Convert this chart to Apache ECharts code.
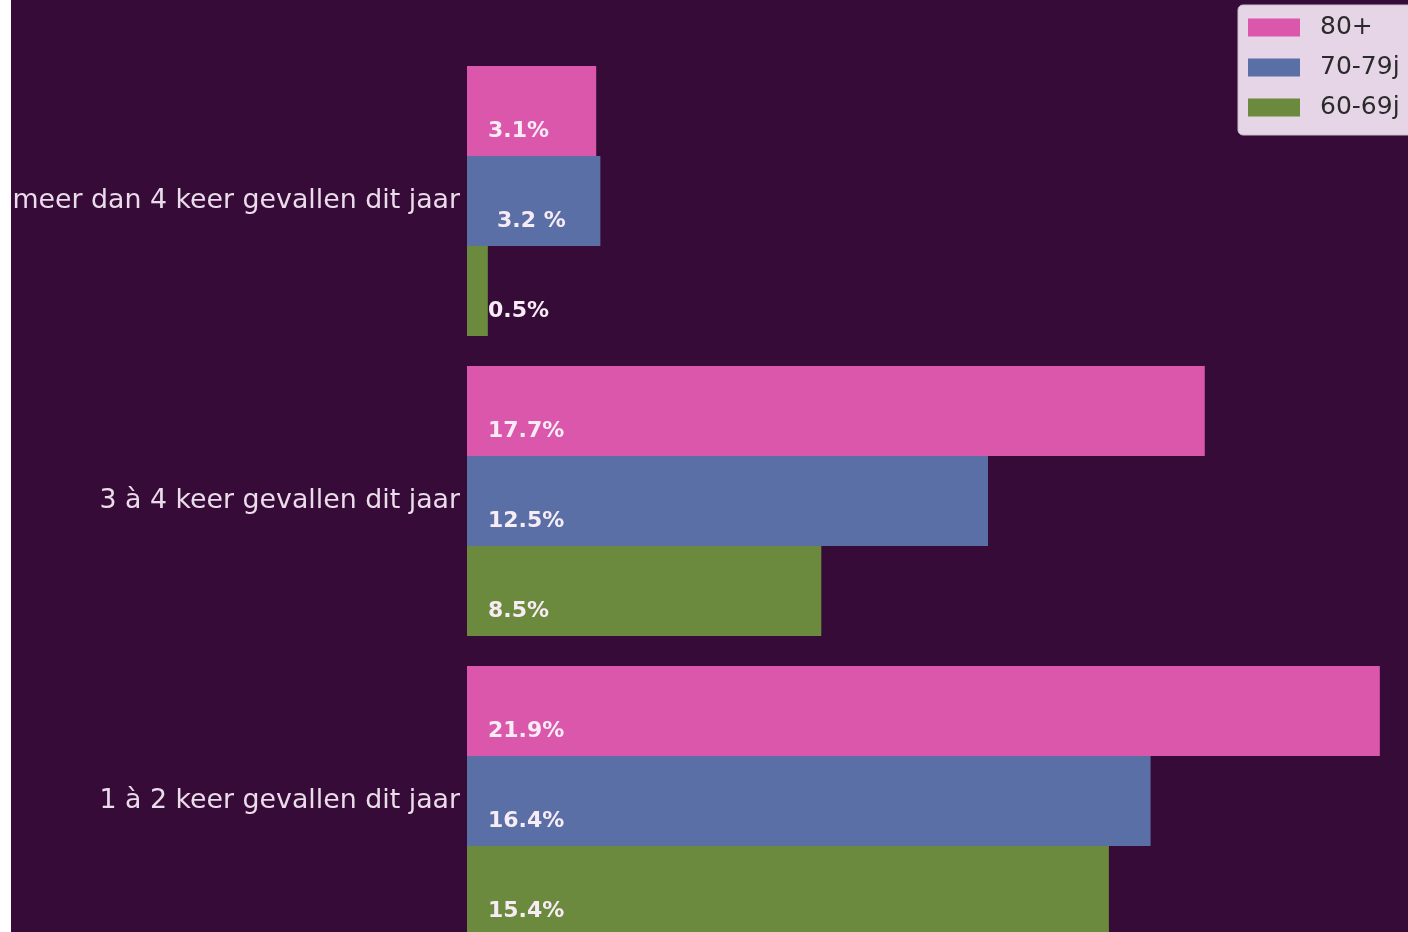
<!DOCTYPE html>
<html>
<head>
<meta charset="utf-8">
<script src="https://cdn.jsdelivr.net/npm/echarts@6/dist/echarts.min.js"></script>
<style>
html,body{margin:0;padding:0;background:#ffffff;width:1408px;height:932px;overflow:hidden;}
#chart{position:absolute;left:11px;top:0;width:1397px;height:970px;background:#360b37;}
</style>
</head>
<body>
<div id="chart"></div>
<script>
// Categories (bottom to top)
const categories = ['1 à 2 keer gevallen dit jaar', '3 à 4 keer gevallen dit jaar', 'meer dan 4 keer gevallen dit jaar'];
const seriesNames = ['80+', '70-79j', '60-69j'];
const values80 = [21.9, 17.7, 3.1];
const values70 = [16.4, 12.5, 3.2];
const values60 = [15.4, 8.5, 0.5];
const labels80 = ['21.9%', '17.7%', '3.1%'];
const labels70 = ['16.4%', '12.5%', '3.2 %'];
const labels60 = ['15.4%', '8.5%', '0.5%'];
const colors = ['#db57ab', '#5b6fa7', '#6b8a3d'];

const chart = echarts.init(document.getElementById('chart'));

function mkSeries(name, vals, labs, color) {
  return {
    name: name,
    type: 'bar',
    barGap: '0%',
    barCategoryGap: '10%',
    itemStyle: { color: color },
    data: vals.map((v, i) => ({
      value: v,
      label: { formatter: labs[i], offset: labs[i].indexOf(' ') >= 0 ? [25, 20] : [16, 20] }
    })),
    label: {
      show: true,
      position: 'insideLeft',
      color: '#f7ecf6',
      fontFamily: 'DejaVu Sans',
      fontWeight: 'bold',
      fontSize: 22
    }
  };
}

chart.setOption({
  animation: false,
  backgroundColor: '#360b37',
  textStyle: { fontFamily: 'DejaVu Sans' },
  grid: { left: 456, top: 51, width: 917, height: 900, containLabel: false, outerBoundsMode: 'none' },
  legend: {
    data: seriesNames,
    orient: 'vertical',
    left: 1227,
    top: 5,
    backgroundColor: '#e5d5e6',
    borderColor: '#cbbccc',
    borderWidth: 1,
    borderRadius: 5,
    padding: [10, 20, 15, 10],
    itemWidth: 52,
    itemHeight: 18,
    itemGap: 15,
    icon: 'rect',
    textStyle: { color: '#2a2a2a', fontSize: 25, fontFamily: 'DejaVu Sans', padding: [0, 0, 0, 15] }
  },
  xAxis: {
    type: 'value',
    min: 0,
    max: 22,
    show: false,
    splitLine: { show: false }
  },
  yAxis: {
    type: 'category',
    data: categories,
    axisLine: { show: false },
    axisTick: { show: false },
    axisLabel: {
      color: '#eadcea',
      fontSize: 26.8,
      fontFamily: 'DejaVu Sans',
      margin: 7
    }
  },
  series: [
    mkSeries(seriesNames[0], values80, labels80, colors[0]),
    mkSeries(seriesNames[1], values70, labels70, colors[1]),
    mkSeries(seriesNames[2], values60, labels60, colors[2])
  ]
});
</script>
</body>
</html>
